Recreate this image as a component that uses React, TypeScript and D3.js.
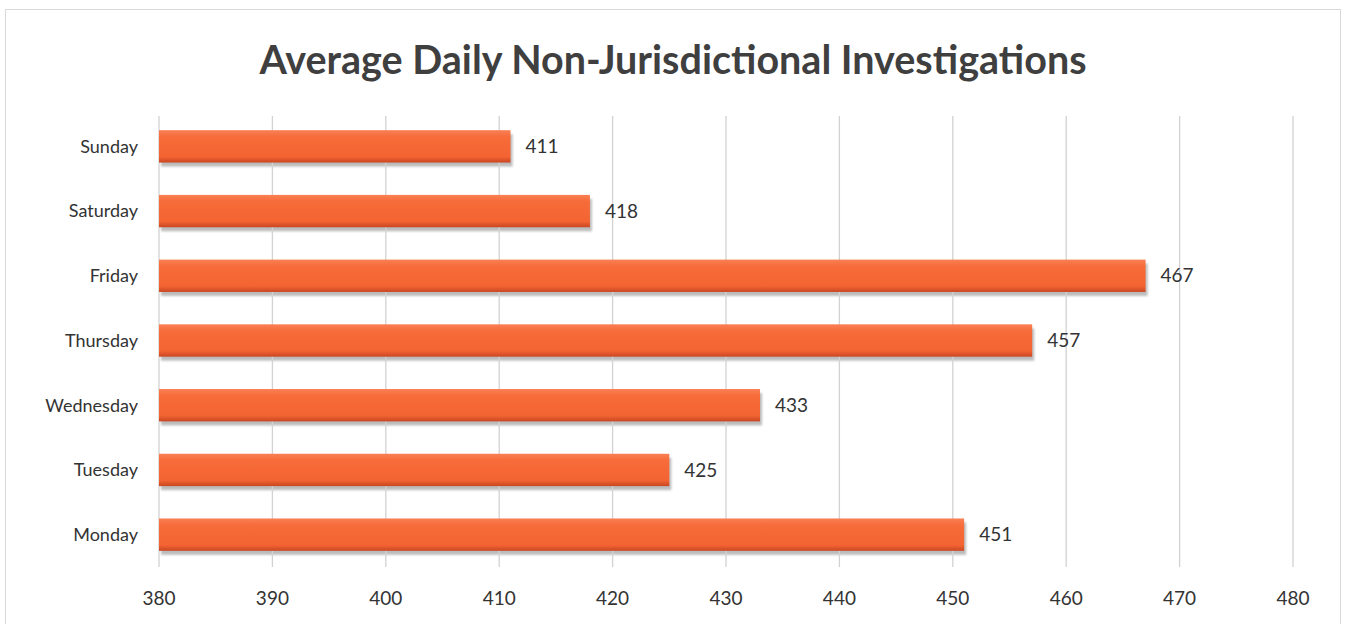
import * as d3 from 'd3';

const days = ['Sunday', 'Saturday', 'Friday', 'Thursday', 'Wednesday', 'Tuesday', 'Monday'];
const counts = [411, 418, 467, 457, 433, 425, 451];
const xTicks = [380, 390, 400, 410, 420, 430, 440, 450, 460, 470, 480];

const W = 1348;
const H = 624;
const font = 'Lato, "Open Sans", sans-serif';

const App = () => {
    const x = d3.scaleLinear().domain([380, 480]).range([159, 1293]);
    const y = d3.scaleBand<string>().domain(days).range([114, 567]).paddingInner(0.5).paddingOuter(0.25);
    const bh = y.bandwidth();

    return (
        <svg width={W} height={H} style={{ position: 'absolute', left: 0, top: 0 }}>
            <defs>
                <linearGradient id="barFill" x1="0" y1="0" x2="0" y2="1">
                    <stop offset="0" stopColor="#f98055" />
                    <stop offset="0.2" stopColor="#f76c3a" />
                    <stop offset="0.82" stopColor="#f36432" />
                    <stop offset="1" stopColor="#c94622" />
                </linearGradient>
                <filter id="blur" x="-5%" y="-50%" width="110%" height="200%">
                    <feGaussianBlur stdDeviation="1.2" />
                </filter>
            </defs>
            <rect x={0} y={0} width={W} height={H} fill="#ffffff" />
            <rect x={5.5} y={9.5} width={1335} height={H + 10} fill="none" stroke="#d9d9d9" />

            <text x={673} y={74} textAnchor="middle" fontFamily={font} fontWeight={700}
                fontSize={39.5} fill="#3f3f3f">
                Average Daily Non-Jurisdictional Investigations
            </text>

            {/* bar shadows under the grid */}
            {days.map((d, i) => {
                const y0 = y(d) as number;
                return (
                    <rect key={d} x={x(380) + 2} y={y0 + 4} width={x(counts[i]) - x(380)} height={bh}
                        fill="#7a7a7a" opacity={0.5} filter="url(#blur)" />
                );
            })}

            {/* grid lines */}
            {xTicks.map(t => (
                <line key={t} x1={x(t)} x2={x(t)} y1={116} y2={567} stroke="#d2d2d2" strokeWidth={1.3} />
            ))}

            {/* bars */}
            {days.map((d, i) => {
                const y0 = y(d) as number;
                return (
                    <g key={d}>
                        <rect x={x(380)} y={y0} width={x(counts[i]) - x(380)} height={bh} fill="url(#barFill)" />
                        <text x={x(counts[i]) + 15} y={y0 + bh / 2} dy="0.35em" fontFamily={font}
                            fontSize={19} fill="#333333">{counts[i]}</text>
                        <text x={138} y={y0 + bh / 2} dy="0.35em" textAnchor="end" fontFamily={font}
                            fontSize={18} fill="#333333">{d}</text>
                    </g>
                );
            })}

            {/* x tick labels */}
            {xTicks.map(t => (
                <text key={t} x={x(t)} y={598} dy="0.35em" textAnchor="middle" fontFamily={font}
                    fontSize={19} fill="#333333">{t}</text>
            ))}
        </svg>
    );
};

export default App;
